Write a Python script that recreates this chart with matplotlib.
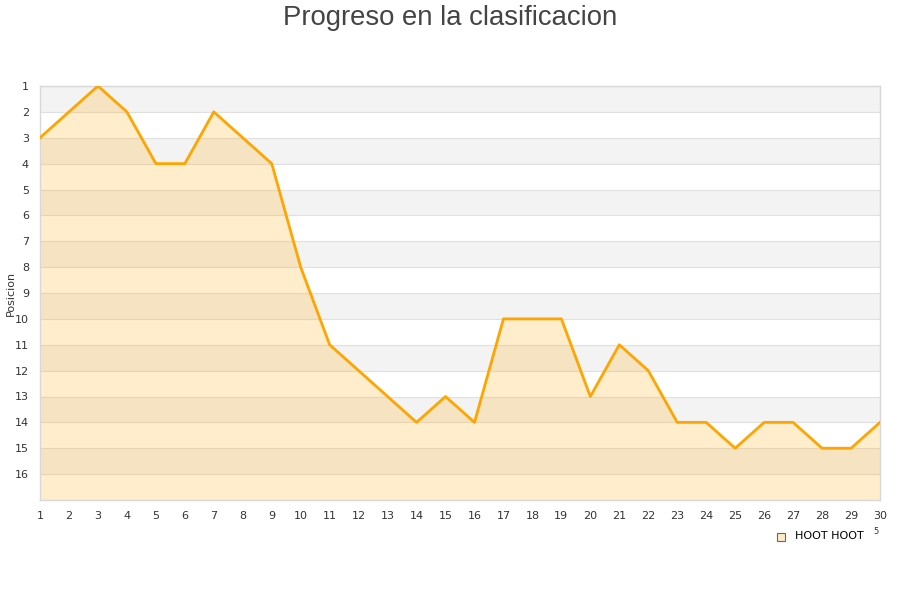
import matplotlib
matplotlib.use("Agg")
import matplotlib.pyplot as plt

jornadas = list(range(1, 31))
posiciones = [3, 2, 1, 2, 4, 4, 2, 3, 4, 8, 11, 12, 13, 14, 13, 14, 10, 10, 10, 13,
              11, 12, 14, 14, 15, 14, 14, 15, 15, 14]
y_ticks = list(range(1, 17))
serie = "HOOT HOOT"
titulo = "Progreso en la clasificacion"

fig = plt.figure(figsize=(9, 6), dpi=100)
ax = fig.add_axes([40/900, 100/600, 840/900, 414/600])

ax.set_xlim(1, 30)
ax.set_ylim(17, 1)

# alternating bands
for k in range(1, 17, 2):
    ax.axhspan(k, k + 1, color="#F3F3F3", zorder=0, lw=0)
for k in range(1, 18):
    ax.axhline(k, color="#E0E0E0", lw=0.8, zorder=1)

ax.fill_between(jornadas, posiciones, 17, color="#FFA500", alpha=0.2, lw=0, zorder=2)
ax.plot(jornadas, posiciones, color="#FFA500", lw=2, zorder=3)

ax.set_xticks(jornadas)
ax.set_yticks(y_ticks)
ax.tick_params(axis="both", length=0, labelsize=8, colors="#333333")
ax.tick_params(axis="x", pad=8)
ax.tick_params(axis="y", pad=8)
for s in ax.spines.values():
    s.set_color("#D8D8D8")
    s.set_linewidth(1)

ax.set_ylabel("Posicion", fontsize=8, color="#333333")
ax.yaxis.set_label_coords(-24/840, 0.5)

fig.text(0.5, 1 - 18/600, titulo, ha="center", va="center", fontsize=19.8,
         color="#444444", family="Liberation Sans")

# legend
fig.patches.append(plt.Rectangle((777/900, 1 - 541/600), 8/900, 8/600,
                                 transform=fig.transFigure, facecolor="#FFEBC8",
                                 edgecolor="#666666", lw=0.8))
fig.text(795/900, 1 - 536/600, serie, ha="left", va="center", fontsize=8, color="#000000")
fig.text(873/900, 1 - 532/600, "5", ha="left", va="center", fontsize=6, color="#333333")

fig.savefig("out.png", dpi=100)
